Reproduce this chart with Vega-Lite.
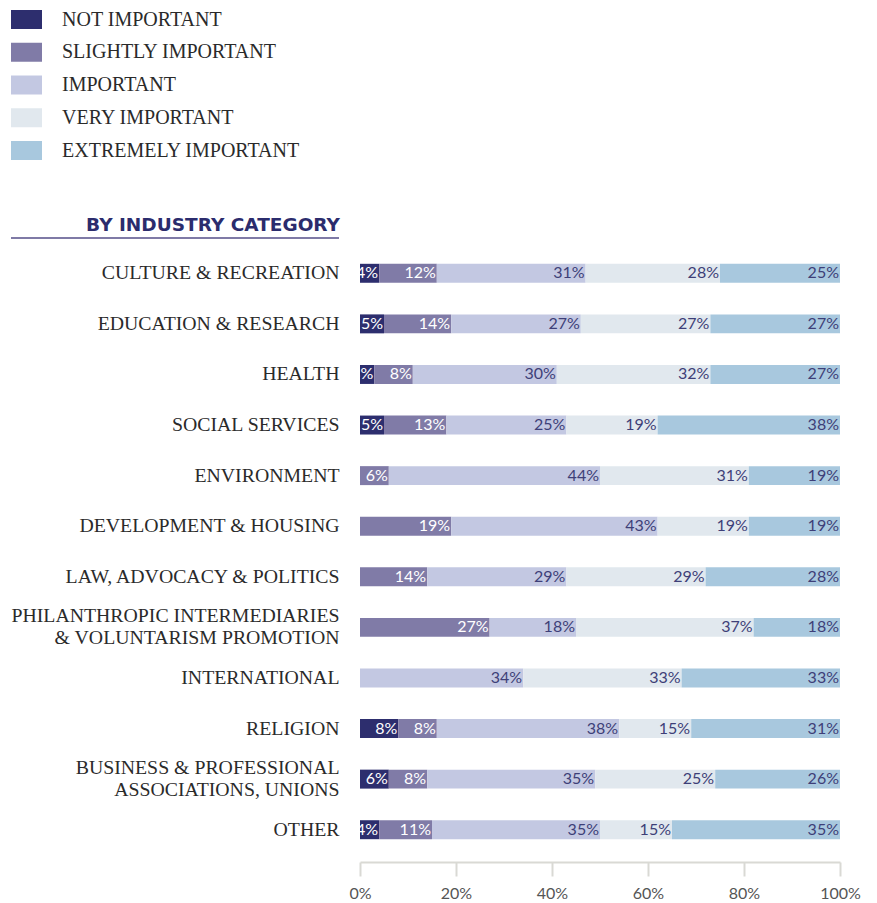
{
  "$schema": "https://vega.github.io/schema/vega-lite/v6.json",
  "background": "white",
  "padding": {"left": 10, "top": 4, "right": 10, "bottom": 4},
  "config": {
    "view": {"stroke": null}
  },
  "datasets": {
    "ratings": [
      {"category": "CULTURE & RECREATION", "level": "NOT IMPORTANT", "order": 1, "share": 0.04},
      {"category": "CULTURE & RECREATION", "level": "SLIGHTLY IMPORTANT", "order": 2, "share": 0.12},
      {"category": "CULTURE & RECREATION", "level": "IMPORTANT", "order": 3, "share": 0.31},
      {"category": "CULTURE & RECREATION", "level": "VERY IMPORTANT", "order": 4, "share": 0.28},
      {"category": "CULTURE & RECREATION", "level": "EXTREMELY IMPORTANT", "order": 5, "share": 0.25},
      {"category": "EDUCATION & RESEARCH", "level": "NOT IMPORTANT", "order": 1, "share": 0.05},
      {"category": "EDUCATION & RESEARCH", "level": "SLIGHTLY IMPORTANT", "order": 2, "share": 0.14},
      {"category": "EDUCATION & RESEARCH", "level": "IMPORTANT", "order": 3, "share": 0.27},
      {"category": "EDUCATION & RESEARCH", "level": "VERY IMPORTANT", "order": 4, "share": 0.27},
      {"category": "EDUCATION & RESEARCH", "level": "EXTREMELY IMPORTANT", "order": 5, "share": 0.27},
      {"category": "HEALTH", "level": "NOT IMPORTANT", "order": 1, "share": 0.03},
      {"category": "HEALTH", "level": "SLIGHTLY IMPORTANT", "order": 2, "share": 0.08},
      {"category": "HEALTH", "level": "IMPORTANT", "order": 3, "share": 0.30},
      {"category": "HEALTH", "level": "VERY IMPORTANT", "order": 4, "share": 0.32},
      {"category": "HEALTH", "level": "EXTREMELY IMPORTANT", "order": 5, "share": 0.27},
      {"category": "SOCIAL SERVICES", "level": "NOT IMPORTANT", "order": 1, "share": 0.05},
      {"category": "SOCIAL SERVICES", "level": "SLIGHTLY IMPORTANT", "order": 2, "share": 0.13},
      {"category": "SOCIAL SERVICES", "level": "IMPORTANT", "order": 3, "share": 0.25},
      {"category": "SOCIAL SERVICES", "level": "VERY IMPORTANT", "order": 4, "share": 0.19},
      {"category": "SOCIAL SERVICES", "level": "EXTREMELY IMPORTANT", "order": 5, "share": 0.38},
      {"category": "ENVIRONMENT", "level": "NOT IMPORTANT", "order": 1, "share": 0},
      {"category": "ENVIRONMENT", "level": "SLIGHTLY IMPORTANT", "order": 2, "share": 0.06},
      {"category": "ENVIRONMENT", "level": "IMPORTANT", "order": 3, "share": 0.44},
      {"category": "ENVIRONMENT", "level": "VERY IMPORTANT", "order": 4, "share": 0.31},
      {"category": "ENVIRONMENT", "level": "EXTREMELY IMPORTANT", "order": 5, "share": 0.19},
      {"category": "DEVELOPMENT & HOUSING", "level": "NOT IMPORTANT", "order": 1, "share": 0},
      {"category": "DEVELOPMENT & HOUSING", "level": "SLIGHTLY IMPORTANT", "order": 2, "share": 0.19},
      {"category": "DEVELOPMENT & HOUSING", "level": "IMPORTANT", "order": 3, "share": 0.43},
      {"category": "DEVELOPMENT & HOUSING", "level": "VERY IMPORTANT", "order": 4, "share": 0.19},
      {"category": "DEVELOPMENT & HOUSING", "level": "EXTREMELY IMPORTANT", "order": 5, "share": 0.19},
      {"category": "LAW, ADVOCACY & POLITICS", "level": "NOT IMPORTANT", "order": 1, "share": 0},
      {"category": "LAW, ADVOCACY & POLITICS", "level": "SLIGHTLY IMPORTANT", "order": 2, "share": 0.14},
      {"category": "LAW, ADVOCACY & POLITICS", "level": "IMPORTANT", "order": 3, "share": 0.29},
      {"category": "LAW, ADVOCACY & POLITICS", "level": "VERY IMPORTANT", "order": 4, "share": 0.29},
      {"category": "LAW, ADVOCACY & POLITICS", "level": "EXTREMELY IMPORTANT", "order": 5, "share": 0.28},
      {"category": "PHILANTHROPIC INTERMEDIARIES\n& VOLUNTARISM PROMOTION", "level": "NOT IMPORTANT", "order": 1, "share": 0},
      {"category": "PHILANTHROPIC INTERMEDIARIES\n& VOLUNTARISM PROMOTION", "level": "SLIGHTLY IMPORTANT", "order": 2, "share": 0.27},
      {"category": "PHILANTHROPIC INTERMEDIARIES\n& VOLUNTARISM PROMOTION", "level": "IMPORTANT", "order": 3, "share": 0.18},
      {"category": "PHILANTHROPIC INTERMEDIARIES\n& VOLUNTARISM PROMOTION", "level": "VERY IMPORTANT", "order": 4, "share": 0.37},
      {"category": "PHILANTHROPIC INTERMEDIARIES\n& VOLUNTARISM PROMOTION", "level": "EXTREMELY IMPORTANT", "order": 5, "share": 0.18},
      {"category": "INTERNATIONAL", "level": "NOT IMPORTANT", "order": 1, "share": 0},
      {"category": "INTERNATIONAL", "level": "SLIGHTLY IMPORTANT", "order": 2, "share": 0},
      {"category": "INTERNATIONAL", "level": "IMPORTANT", "order": 3, "share": 0.34},
      {"category": "INTERNATIONAL", "level": "VERY IMPORTANT", "order": 4, "share": 0.33},
      {"category": "INTERNATIONAL", "level": "EXTREMELY IMPORTANT", "order": 5, "share": 0.33},
      {"category": "RELIGION", "level": "NOT IMPORTANT", "order": 1, "share": 0.08},
      {"category": "RELIGION", "level": "SLIGHTLY IMPORTANT", "order": 2, "share": 0.08},
      {"category": "RELIGION", "level": "IMPORTANT", "order": 3, "share": 0.38},
      {"category": "RELIGION", "level": "VERY IMPORTANT", "order": 4, "share": 0.15},
      {"category": "RELIGION", "level": "EXTREMELY IMPORTANT", "order": 5, "share": 0.31},
      {"category": "BUSINESS & PROFESSIONAL\nASSOCIATIONS, UNIONS", "level": "NOT IMPORTANT", "order": 1, "share": 0.06},
      {"category": "BUSINESS & PROFESSIONAL\nASSOCIATIONS, UNIONS", "level": "SLIGHTLY IMPORTANT", "order": 2, "share": 0.08},
      {"category": "BUSINESS & PROFESSIONAL\nASSOCIATIONS, UNIONS", "level": "IMPORTANT", "order": 3, "share": 0.35},
      {"category": "BUSINESS & PROFESSIONAL\nASSOCIATIONS, UNIONS", "level": "VERY IMPORTANT", "order": 4, "share": 0.25},
      {"category": "BUSINESS & PROFESSIONAL\nASSOCIATIONS, UNIONS", "level": "EXTREMELY IMPORTANT", "order": 5, "share": 0.26},
      {"category": "OTHER", "level": "NOT IMPORTANT", "order": 1, "share": 0.04},
      {"category": "OTHER", "level": "SLIGHTLY IMPORTANT", "order": 2, "share": 0.11},
      {"category": "OTHER", "level": "IMPORTANT", "order": 3, "share": 0.35},
      {"category": "OTHER", "level": "VERY IMPORTANT", "order": 4, "share": 0.15},
      {"category": "OTHER", "level": "EXTREMELY IMPORTANT", "order": 5, "share": 0.35}
    ]
  },
  "columns": 2,
  "spacing": {"row": 0, "column": 8},
  "concat": [
    {
      "width": 328,
      "height": 0,
      "title": {
        "text": "BY INDUSTRY CATEGORY",
        "anchor": "end",
        "font": "DejaVu Sans",
        "fontSize": 18.5,
        "fontWeight": "bold",
        "color": "#2b2c6d",
        "offset": -6
      },
      "data": {"values": [{"start": 0, "end": 1}]},
      "mark": {"type": "rule", "color": "#7f7aa6", "strokeWidth": 2},
      "encoding": {
        "x": {"field": "start", "type": "quantitative", "axis": null, "scale": {"domain": [0, 1]}},
        "x2": {"field": "end"}
      }
    },
    {
      "width": 480,
      "height": 0,
      "data": {"values": []},
      "mark": "rule",
      "encoding": {}
    },
    {
      "width": 328,
      "height": 607,
      "data": {"name": "ratings"},
      "transform": [{"filter": "datum.order == 1"}],
      "mark": {"type": "tick", "opacity": 0},
      "encoding": {
        "y": {
          "field": "category",
          "type": "nominal",
          "sort": null,
          "scale": {"paddingInner": 0, "paddingOuter": 0},
          "axis": {
            "orient": "right",
            "title": null,
            "domain": false,
            "ticks": false,
            "labelAlign": "right",
            "labelPadding": 0,
            "labelFont": "Liberation Serif",
            "labelFontSize": 19.8,
            "labelColor": "#2a2a2a",
            "labelLimit": 400,
            "labelLineHeight": 22,
            "labelOffset": {"condition": {"test": "indexof(datum.value, '\\n') >= 0", "value": -11}, "value": 0},
            "labelExpr": "split(datum.value, '\\n')"
          }
        }
      }
    },
    {
      "width": 480,
      "height": 607,
      "data": {"name": "ratings"},
      "transform": [
        {
          "stack": "share",
          "groupby": ["category"],
          "sort": [{"field": "order", "order": "ascending"}],
          "as": ["x0", "x1"]
        }
      ],
      "encoding": {
        "y": {
          "field": "category",
          "type": "nominal",
          "sort": null,
          "scale": {"paddingInner": 0, "paddingOuter": 0},
          "axis": null
        }
      },
      "layer": [
        {
          "mark": {"type": "bar", "height": {"band": 0.375}},
          "encoding": {
            "x": {
              "field": "x0",
              "type": "quantitative",
              "scale": {"domain": [0, 1]},
              "axis": {
                "title": null,
                "format": ".0%",
                "values": [0, 0.2, 0.4, 0.6, 0.8, 1],
                "grid": false,
                "domainColor": "#d9d9d4",
                "domainWidth": 2,
                "tickColor": "#d9d9d4",
                "tickWidth": 2,
                "tickSize": 14,
                "offset": 7,
                "labelFlush": false,
                "labelFont": "Lato",
                "labelFontSize": 16,
                "labelColor": "#555555",
                "labelPadding": 9
              }
            },
            "x2": {"field": "x1"},
            "color": {
              "field": "level",
              "type": "nominal",
              "scale": {
                "domain": ["NOT IMPORTANT", "SLIGHTLY IMPORTANT", "IMPORTANT", "VERY IMPORTANT", "EXTREMELY IMPORTANT"],
                "range": ["#2d2e6e", "#807ba7", "#c3c8e2", "#e1e8ee", "#a8c8de"]
              },
              "legend": {
                "orient": "none",
                "legendX": 0,
                "legendY": -224,
                "title": null,
                "padding": 0,
                "direction": "vertical",
                "symbolType": "M-1,-0.613H1V0.613H-1Z",
                "symbolSize": 961,
                "symbolStrokeWidth": 0,
                "symbolOpacity": 1,
                "labelFont": "Liberation Serif",
                "labelFontSize": 20,
                "labelColor": "#2a2a2a",
                "labelLimit": 320,
                "labelOffset": 20,
                "rowPadding": 6.75
              }
            }
          }
        },
        {
          "transform": [{"filter": "datum.share > 0"}],
          "mark": {"type": "text", "align": "right", "baseline": "middle", "dx": -1, "font": "Lato", "fontSize": 16},
          "encoding": {
            "x": {"field": "x1", "type": "quantitative"},
            "text": {"field": "share", "type": "quantitative", "format": ".0%"},
            "color": {
              "condition": {"test": "datum.order <= 2", "value": "#ffffff"},
              "value": "#3e3f78"
            }
          }
        }
      ]
    }
  ]
}
